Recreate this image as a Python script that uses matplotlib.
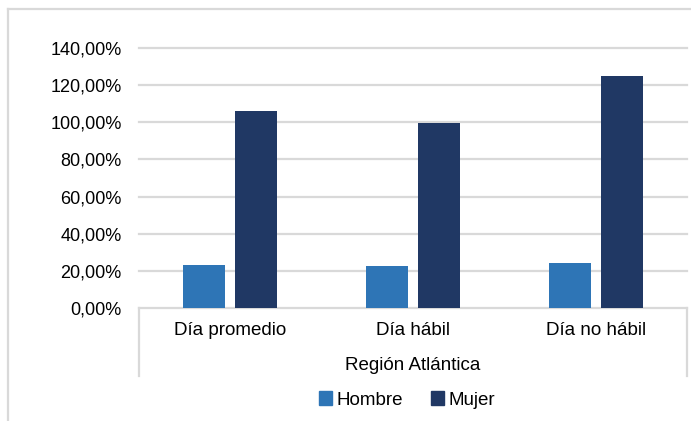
import matplotlib
matplotlib.use("Agg")
import matplotlib.pyplot as plt
from matplotlib.lines import Line2D
from matplotlib.patches import Patch
import numpy as np

plt.rcParams['font.family'] = ['Liberation Sans', 'DejaVu Sans']

categories = ["Día promedio", "Día hábil", "Día no hábil"]
group_label = "Región Atlántica"
hombre = [23.2, 22.8, 24.3]
mujer = [106.2, 99.5, 125.0]
yticks = [0, 20, 40, 60, 80, 100, 120, 140]
ytick_labels = ["0,00%", "20,00%", "40,00%", "60,00%", "80,00%", "100,00%", "120,00%", "140,00%"]

c_hombre = "#2E75B6"
c_mujer = "#203864"
grid_c = "#D9D9D9"

W, H = 691, 421
fig = plt.figure(figsize=(W / 100, H / 100), dpi=100)
ax = fig.add_axes([139 / W, 1 - 308 / H, (687 - 139) / W, (308 - 48) / H])

x = np.arange(len(categories))
bw = 0.23
ax.bar(x - 0.143, hombre, bw, color=c_hombre, zorder=3, label="Hombre")
ax.bar(x + 0.143, mujer, bw, color=c_mujer, zorder=3, label="Mujer")

ax.set_xlim(-0.5, 2.5)
ax.set_ylim(0, 140)
ax.set_yticks(yticks)
ax.set_yticklabels(ytick_labels, fontsize=13)
ax.tick_params(axis='y', length=0, pad=12.5)
ax.set_xticks([])
for y in yticks[1:]:
    ax.axhline(y, color=grid_c, lw=1.6, zorder=1, clip_on=False)
for s in ["top", "right", "left"]:
    ax.spines[s].set_visible(False)
ax.spines["bottom"].set_color(grid_c)
ax.spines["bottom"].set_linewidth(1.6)

# multi-level category axis
for i, c in enumerate(categories):
    ax.annotate(c, (i, 0), xycoords=('data', 'axes fraction'),
                xytext=(0, -10), textcoords='offset points',
                ha='center', va='top', fontsize=13.5)
ax.annotate(group_label, (1, 0), xycoords=('data', 'axes fraction'),
            xytext=(0, -35.3), textcoords='offset points',
            ha='center', va='top', fontsize=13.5)
for xf in (139 / W, 687 / W):
    fig.add_artist(Line2D([xf, xf], [1 - 308 / H, 1 - 376 / H],
                          transform=fig.transFigure, color=grid_c, lw=1.6))

# chart border
fig.add_artist(Line2D([8 / W, 1], [1 - 9 / H, 1 - 9 / H], transform=fig.transFigure, color=grid_c, lw=1.6))
fig.add_artist(Line2D([8 / W, 8 / W], [0, 1 - 9 / H], transform=fig.transFigure, color=grid_c, lw=1.6))

handles = [Patch(color=c_hombre, label="Hombre"), Patch(color=c_mujer, label="Mujer")]
fig.legend(handles=handles, loc='center', bbox_to_anchor=(407 / W, 1 - 400 / H),
           ncol=2, frameon=False, fontsize=13.5, handlelength=0.7, handleheight=0.7,
           handletextpad=0.25, columnspacing=1.5)

fig.savefig("out.png", dpi=100)
